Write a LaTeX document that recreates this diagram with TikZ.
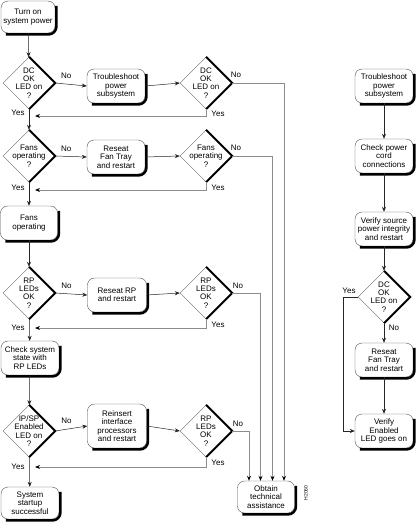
\documentclass[tikz,border=0pt]{standalone}
\usepackage{fontspec}
\setmainfont{Liberation Sans}
\usetikzlibrary{shapes.geometric,arrows.meta}
\begin{document}
\begin{tikzpicture}[x=1pt,y=-1pt,
  font=\fontsize{8}{8.4}\selectfont,
  box/.style={draw=black!70, line width=0.4pt, fill=white, rounded corners=7pt,
    minimum width=57pt, minimum height=34pt, align=center, inner sep=1pt},
  shadowline/.style={draw=black, line width=2.5pt, rounded corners=8pt},
  dia/.style={draw=black!60, line width=0.4pt, diamond, minimum width=52pt,
    minimum height=52pt, inner sep=0pt, fill=white},
  dtext/.style={label={[align=center, inner sep=0pt]center:#1}},
  edge/.style={line width=2pt, line join=miter},
  arr/.style={draw=black!85, line width=0.5pt, -{Stealth[length=5pt,width=4pt]}},
  garr/.style={draw=black!45, line width=0.9pt, -{Stealth[length=5pt,width=4pt,black]}},
  lbl/.style={inner sep=0pt}
]
\useasboundingbox (0,0) rectangle (415,522);

% left column
\node[box, minimum width=54pt, minimum height=32pt] (b1) at (28,17) {Turn on\\system power};
\node[dia, dtext={DC\\OK\\LED on\\?}] (d1) at (29,83) {};
\node[box, minimum width=58pt] (t1) at (116,86) {Troubleshoot\\power\\subsystem};
\node[dia, dtext={DC\\OK\\LED on\\?}] (d2) at (206,83) {};

\node[dia, dtext={Fans\\operating\\?}] (d3) at (29,156) {};
\node[box, minimum width=58pt] (t2) at (116,157) {Reseat\\Fan Tray\\and restart};
\node[dia, dtext={Fans\\operating\\?}] (d4) at (206,156) {};

\node[box] (b2) at (29,223) {Fans\\operating};

\node[dia, dtext={RP\\LEDs\\OK\\?}] (d5) at (29,293) {};
\node[box, minimum width=59pt] (t3) at (117,295) {Reseat RP\\and restart};
\node[dia, dtext={RP\\LEDs\\OK\\?}] (d6) at (206,293) {};

\node[box, minimum width=58pt] (b3) at (30,358) {Check system\\state with\\RP LEDs};

\node[dia, dtext={IP/SP\\Enabled\\LED on\\?}] (d7) at (29,431) {};
\node[box, minimum width=59pt, minimum height=44pt] (t4) at (117,426) {Reinsert\\interface\\processors\\and restart};
\node[dia, dtext={RP\\LEDs\\OK\\?}] (d8) at (206,431) {};

\node[box, minimum width=58pt, minimum height=32pt] (b4) at (30,503) {System\\startup\\successful};

\node[box, minimum width=57pt, minimum height=32pt] (ob) at (266,497) {Obtain\\technical\\assistance};
\node[rotate=90, font=\fontsize{5}{5}\selectfont, inner sep=0pt] (code) at (306,493) {H2060};

% right column
\node[box, minimum width=58pt] (r1) at (384,86) {Troubleshoot\\power\\subsystem};
\node[box, minimum width=58pt] (r2) at (384,156) {Check power\\cord\\connections};
\node[box, minimum width=58pt] (r3) at (384,229) {Verify source\\power integrity\\and restart};
\node[dia, dtext={DC\\OK\\LED on\\?}] (rd) at (384,297) {};
\node[box, minimum width=58pt] (r4) at (384,360) {Reseat\\Fan Tray\\and restart};
\node[box, minimum width=58pt] (r5) at (384,431) {Verify\\Enabled\\LED goes on};

% box shadows (right and bottom edges)
\foreach \bx in {b1,t1,t2,b2,t3,b3,t4,b4,ob,r1,r2,r3,r4,r5}
  \draw[shadowline] ([shift={(1.25pt,-5pt)}]\bx.north east)
    -- ([shift={(1.25pt,-1.25pt)}]\bx.south east)
    -- ([shift={(5pt,-1.25pt)}]\bx.south west);

% thick diamond edges
\foreach \dx in {d1,d2,d3,d4,d5,d6,d7,d8,rd}
  \draw[edge] (\dx.north) -- (\dx.east) -- (\dx.south);

% coordinates
\coordinate (y1) at (29,116);
\coordinate (y2) at (29,190);
\coordinate (y3) at (29,328);
\coordinate (y4) at (29,467);

% left column arrows
\draw[arr] (b1) -- (d1);
\draw[arr] (d1) -- (d3);
\draw[arr] (d3) -- (b2);
\draw[arr] (b2) -- (d5);
\draw[arr] (d5) -- (b3);
\draw[arr] (b3) -- (d7);
\draw[arr] (d7) -- (b4);

% No branches
\draw[arr] (d1.east) -- node[lbl, pos=0.35, above=5pt] (n1) {No} (t1.west);
\draw[arr] (t1.east) -- (d2.west);
\draw[arr] (d3.east) -- node[lbl, pos=0.35, above=5pt] (n3) {No} (t2.west);
\draw[arr] (t2.east) -- (d4.west);
\draw[arr] (d5.east) -- node[lbl, pos=0.35, above=5pt] (n5) {No} (t3.west);
\draw[arr] (t3.east) -- (d6.west);
\draw[arr] (d7.east) -- node[lbl, pos=0.35, above=5pt] (n7) {No} (t4.west);
\draw[arr] (t4.east) -- (d8.west);

% to obtain assistance
\draw[garr] (d2.east) -| ([xshift=18pt]ob.north);
\draw[garr] (d4.east) -| ([xshift=6.5pt]ob.north);
\draw[garr] (d6.east) -| ([xshift=-5.5pt]ob.north);
\draw[garr] (d8.east) -| ([xshift=-17pt]ob.north);
\node[lbl] (n2) at (236,75) {No};
\node[lbl] (n4) at (236,148) {No};
\node[lbl] (n6) at (238,286) {No};
\node[lbl] (n8) at (238,424) {No};

% yes loops
\draw[garr] (d2.south) |- ([xshift=6pt]y1);
\draw[garr] (d4.south) |- ([xshift=6pt]y2);
\draw[garr] (d6.south) |- ([xshift=6pt]y3);
\draw[garr] (d8.south) |- ([xshift=6pt]y4);
\node[lbl] (ya) at (218,114) {Yes};
\node[lbl] (yb) at (218,188) {Yes};
\node[lbl] (yc) at (218,325) {Yes};
\node[lbl] (yd) at (218,463) {Yes};
\node[lbl] (yA) at (18,113) {Yes};
\node[lbl] (yB) at (18,188) {Yes};
\node[lbl] (yC) at (18,328) {Yes};
\node[lbl] (yD) at (18,467) {Yes};

% right column
\draw[arr] (r1) -- (r2);
\draw[arr] (r2) -- (r3);
\draw[arr] (r3) -- (rd);
\draw[arr] (rd) -- (r4);
\draw[arr] (r4) -- (r5);
\coordinate (ry) at (343,297);
\draw[arr] (rd.west) -- (ry) |- (r5.west);
\node[lbl] (ryl) at (349,291) {Yes};
\node[lbl] (rno) at (394,328) {No};
\end{tikzpicture}
\end{document}
